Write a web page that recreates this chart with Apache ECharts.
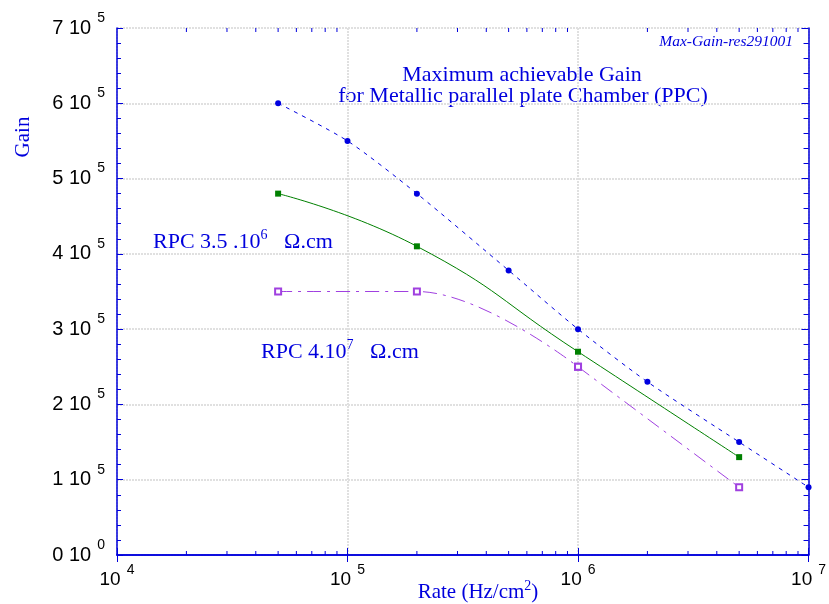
<!DOCTYPE html>
<html>
<head>
<meta charset="utf-8">
<script src="https://cdn.jsdelivr.net/npm/echarts@6/dist/echarts.min.js"></script>
<style>html,body{margin:0;padding:0;background:#fff;}#c{width:829px;height:604px;}</style>
</head>
<body>
<div id="c"></div>
<script>
// ---- data ----
var rateBlue = [5e4, 1e5, 2e5, 5e5, 1e6, 2e6, 5e6, 1e7];
var gainBlue = [6.0e5, 5.5e5, 4.8e5, 3.78e5, 3.0e5, 2.3e5, 1.5e5, 0.9e5];
var rateGreen = [5e4, 2e5, 1e6, 5e6];
var gainGreen = [4.8e5, 4.1e5, 2.7e5, 1.3e5];
var ratePurple = [5e4, 2e5, 1e6, 5e6];
var gainPurple = [3.5e5, 3.5e5, 2.5e5, 0.9e5];
var xMinorTicks = [2e4,3e4,4e4,5e4,6e4,7e4,8e4,9e4,2e5,3e5,4e5,5e5,6e5,7e5,8e5,9e5,2e6,3e6,4e6,5e6,6e6,7e6,8e6,9e6];
var yTickMantissa = [0,1,2,3,4,5,6,7];
var yTickExponent = [0,5,5,5,5,5,5,5];

var BLUE = '#0000dd';
var PURPLE = '#a040e0';
var chart = echarts.init(document.getElementById('c'));

function zip(a, b) { return a.map(function (v, i) { return [v, b[i]]; }); }

var axisLine = {show: true, lineStyle: {color: BLUE, width: 1.5}};
var gridLine = {show: true, lineStyle: {color: '#e0e0e0', type: [2, 1], width: 2}};

var yLabel = {
  margin: 12, color: '#000',
  formatter: function (v) {
    var i = Math.round(v / 1e5);
    return '{a|' + yTickMantissa[i] + ' 10}{s|' + yTickExponent[i] + '}';
  },
  rich: {
    a: {fontFamily: 'Liberation Sans', fontSize: 20, color: '#000'},
    s: {fontFamily: 'Liberation Sans', fontSize: 14, color: '#000', padding: [0, 0, 20, 6]}
  }
};
var xLabel = {
  margin: 8, color: '#000',
  formatter: function (v) {
    return '{a|10}{s|' + Math.round(Math.log10(v)) + '}';
  },
  rich: {
    a: {fontFamily: 'Liberation Sans', fontSize: 19, color: '#000'},
    s: {fontFamily: 'Liberation Sans', fontSize: 14, color: '#000', padding: [0, 0, 20, 6]}
  }
};

var purpleLine = {color: PURPLE, width: 1, type: [14, 6, 3, 6]};

var option = {
  backgroundColor: '#fff',
  animation: false,
  grid: {left: 117, right: 20, top: 28, bottom: 49},
  xAxis: [{
    type: 'log', logBase: 10, min: 1e4, max: 1e7,
    axisLine: axisLine,
    axisTick: {show: true, inside: true, length: 7, lineStyle: {color: BLUE, width: 1}},
    axisLabel: xLabel,
    splitLine: gridLine
  }, {
    type: 'log', logBase: 10, min: 1e4, max: 1e7, position: 'top',
    axisLine: axisLine,
    axisTick: {show: true, inside: true, length: 7, lineStyle: {color: BLUE, width: 1}},
    axisLabel: {show: false}, splitLine: {show: false}
  }],
  yAxis: [{
    type: 'value', min: 0, max: 7e5, interval: 1e5,
    axisLine: axisLine,
    axisTick: {show: true, inside: true, length: 6, lineStyle: {color: BLUE, width: 1}},
    minorTick: {show: true, splitNumber: 5, length: 4, lineStyle: {color: BLUE, width: 1}},
    axisLabel: yLabel,
    splitLine: gridLine
  }, {
    type: 'value', min: 0, max: 7e5, interval: 1e5, position: 'right',
    axisLine: axisLine,
    axisTick: {show: true, inside: true, length: 7, lineStyle: {color: BLUE, width: 1}},
    minorTick: {show: true, splitNumber: 5, length: 5, lineStyle: {color: BLUE, width: 1}},
    axisLabel: {show: false}, splitLine: {show: false}
  }],
  series: [{
    type: 'custom', silent: true, clip: false, z: 5,
    data: xMinorTicks.map(function (v) { return [v, 0]; }),
    renderItem: function (params, api) {
      var v = api.value(0);
      var b = api.coord([v, 0]);
      var t = api.coord([v, 7e5]);
      var st = {stroke: BLUE, lineWidth: 1};
      return {type: 'group', children: [
        {type: 'line', shape: {x1: b[0], y1: b[1], x2: b[0], y2: b[1] - 4}, style: st},
        {type: 'line', shape: {x1: t[0], y1: t[1], x2: t[0], y2: t[1] + 4}, style: st}
      ]};
    }
  }, {
    name: 'blue', type: 'line', data: zip(rateBlue, gainBlue),
    smooth: 0.25, symbol: 'circle', symbolSize: 6,
    itemStyle: {color: '#0000e0'},
    lineStyle: {color: '#0000e0', width: 1, type: [4, 5]}
  }, {
    name: 'green', type: 'line', data: zip(rateGreen, gainGreen),
    smooth: 0.5, symbol: 'rect', symbolSize: 6,
    itemStyle: {color: '#008000'},
    lineStyle: {color: '#008000', width: 1, type: 'solid'}
  }, {
    // plateau and bend of the purple curve
    name: 'purple', type: 'line', data: zip(ratePurple.slice(0, 3), gainPurple.slice(0, 3)),
    smooth: 0.4, smoothMonotone: 'x', symbol: 'emptyRect', symbolSize: 6,
    itemStyle: {color: PURPLE, borderWidth: 1},
    lineStyle: purpleLine
  }, {
    // falling tail of the purple curve
    name: 'purple', type: 'line', data: zip(ratePurple.slice(2), gainPurple.slice(2)),
    smooth: false, symbol: 'emptyRect', symbolSize: 6,
    itemStyle: {color: PURPLE, borderWidth: 1},
    lineStyle: purpleLine
  }],
  graphic: [
    {type: 'text', x: 23, y: 137, rotation: Math.PI / 2, style: {
      text: 'Gain', fill: BLUE, font: '21px "Liberation Serif"', align: 'center', verticalAlign: 'middle'}},
    {type: 'text', x: 478, y: 592, style: {
      text: '{a|Rate (Hz/cm}{s|2}{a|)}', align: 'center', verticalAlign: 'middle',
      rich: {a: {fill: BLUE, fontFamily: 'Liberation Serif', fontSize: 21},
             s: {fill: BLUE, fontFamily: 'Liberation Serif', fontSize: 14, padding: [0, 0, 12, 0]}}}},
    {type: 'text', x: 522, y: 75, style: {
      text: 'Maximum achievable Gain', fill: BLUE, font: '22px "Liberation Serif"', align: 'center', verticalAlign: 'middle'}},
    {type: 'text', x: 523, y: 96, style: {
      text: 'for Metallic parallel plate Chamber (PPC)', fill: BLUE, font: '22px "Liberation Serif"', align: 'center', verticalAlign: 'middle'}},
    {type: 'text', x: 793, y: 42, style: {
      text: 'Max-Gain-res291001', fill: BLUE, font: 'italic 15.5px "Liberation Serif"', align: 'right', verticalAlign: 'middle'}},
    {type: 'text', x: 153, y: 242, style: {
      text: '{a|RPC 3.5 .10}{s|6}{a|   Ω.cm}', align: 'left', verticalAlign: 'middle',
      rich: {a: {fill: BLUE, fontFamily: 'Liberation Serif', fontSize: 22},
             s: {fill: BLUE, fontFamily: 'Liberation Serif', fontSize: 14, padding: [0, 0, 14, 0]}}}},
    {type: 'text', x: 261, y: 352, style: {
      text: '{a|RPC 4.10}{s|7}{a|   Ω.cm}', align: 'left', verticalAlign: 'middle',
      rich: {a: {fill: BLUE, fontFamily: 'Liberation Serif', fontSize: 22},
             s: {fill: BLUE, fontFamily: 'Liberation Serif', fontSize: 14, padding: [0, 0, 14, 0]}}}}
  ]
};
chart.setOption(option);
</script>
</body>
</html>
